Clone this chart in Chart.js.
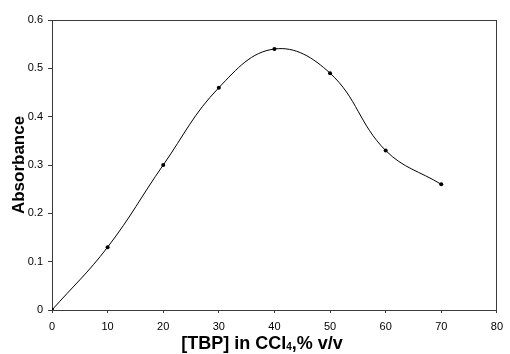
<!DOCTYPE html>
<html>
<head>
<meta charset="utf-8">
<script src="https://cdn.jsdelivr.net/npm/chart.js@4/dist/chart.umd.min.js"></script>
<style>
  html, body { margin: 0; padding: 0; background: #fff; }
  #wrap { width: 510px; height: 354px; }
</style>
</head>
<body>
<div id="wrap"><canvas id="chart"></canvas></div>
<script>
// TBP concentration (% v/v) and measured absorbance
const tbpPercent = [0, 10, 20, 30, 40, 50, 60, 70];
const absorbance = [0, 0.13, 0.30, 0.46, 0.54, 0.49, 0.33, 0.26];

const xTitleMain = '[TBP] in CCl';
const xTitleSub = '4';
const xTitleTail = ',% v/v';
const yTitle = 'Absorbance';

const FONT = '"Liberation Sans", Arial, sans-serif';
const axisColor = '#3a3a3a';

// x axis title has a subscript, so draw it by hand below the axis
const xTitlePlugin = {
  id: 'xTitle',
  afterDraw(chart) {
    const ctx = chart.ctx;
    ctx.save();
    ctx.fillStyle = '#000';
    ctx.textBaseline = 'alphabetic';
    ctx.font = 'bold 18px ' + FONT;
    const w1 = ctx.measureText(xTitleMain).width;
    const w3 = ctx.measureText(xTitleTail).width;
    ctx.font = 'bold 10px ' + FONT;
    const w2 = ctx.measureText(xTitleSub).width;
    let x = 262 - (w1 + w2 + w3) / 2;
    const y = 349;
    ctx.font = 'bold 18px ' + FONT;
    ctx.fillText(xTitleMain, x, y);
    x += w1;
    ctx.font = 'bold 10px ' + FONT;
    ctx.fillText(xTitleSub, x, y + 1);
    x += w2;
    ctx.font = 'bold 18px ' + FONT;
    ctx.fillText(xTitleTail, x, y);
    ctx.restore();
  }
};

const lastTick = c => c.index === c.scale.ticks.length - 1;

new Chart(document.getElementById('chart'), {
  type: 'scatter',
  data: {
    datasets: [{
      data: tbpPercent.map((x, i) => ({ x: x, y: absorbance[i] })),
      showLine: true,
      borderColor: '#000',
      borderWidth: 1,
      tension: 0.4,
      pointRadius: 2,
      pointBackgroundColor: '#000',
      pointBorderColor: '#000',
      pointBorderWidth: 0
    }]
  },
  options: {
    responsive: true,
    maintainAspectRatio: false,
    animation: false,
    layout: { padding: { top: 20, right: 7, bottom: 0, left: 0 } },
    plugins: {
      legend: { display: false },
      tooltip: { enabled: false }
    },
    scales: {
      x: {
        type: 'linear',
        min: 0,
        max: 80,
        ticks: { stepSize: 10, color: '#000', padding: 7, font: { family: FONT, size: 11 } },
        grid: {
          color: c => lastTick(c) ? axisColor : 'transparent',
          tickColor: axisColor,
          tickLength: 3
        },
        border: { color: axisColor, width: 1 },
        afterFit: s => { s.height = 44; }
      },
      y: {
        min: 0,
        max: 0.6,
        ticks: { stepSize: 0.1, color: '#000', padding: 5, font: { family: FONT, size: 11 } },
        grid: {
          color: c => lastTick(c) ? axisColor : 'transparent',
          tickColor: axisColor,
          tickLength: 4
        },
        border: { color: axisColor, width: 1 },
        title: {
          display: true,
          text: yTitle,
          color: '#000',
          font: { family: FONT, size: 17, weight: 'bold' },
          padding: { top: 9, bottom: 0 }
        },
        afterFit: s => { s.width = 52; }
      }
    }
  },
  plugins: [xTitlePlugin]
});
</script>
</body>
</html>
